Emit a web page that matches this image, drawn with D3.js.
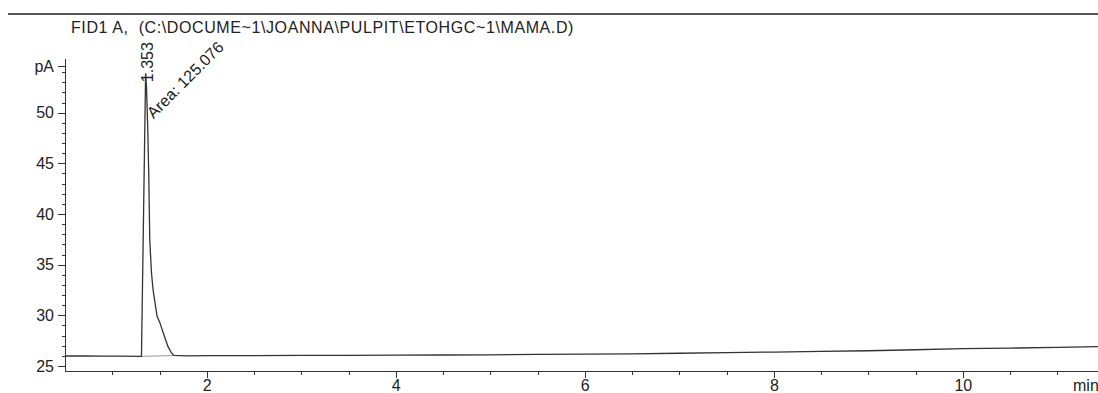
<!DOCTYPE html>
<html>
<head>
<meta charset="utf-8">
<script src="https://cdn.jsdelivr.net/npm/d3@7"></script>
<style>
  body { margin: 0; background: #fff; }
  svg { display: block; font-family: "Liberation Sans", Arial, sans-serif; }
  .axis path, .axis line { stroke: #333; shape-rendering: crispEdges; }
  .axis text { font-size: 16px; fill: #222; font-family: "Liberation Sans", Arial, sans-serif; }
  .signal { fill: none; stroke: #333; stroke-width: 1.3; }
  .peak-base { fill: none; stroke: #999; stroke-width: 1; }
</style>
</head>
<body>
<div id="chart"></div>
<script>
(function (d3, window) {
    'use strict';

    // Chromatogram values (time in min, signal in pA).
    var times = [0.5, 0.7, 0.9, 1.1, 1.3, 1.309, 1.353, 1.362, 1.376, 1.386, 1.397, 1.415,
        1.432, 1.474, 1.503, 1.538, 1.59, 1.627, 1.651, 1.8, 2.0, 2.5, 3.0, 3.5, 4.0,
        4.5, 5.0, 5.5, 6.0, 6.5, 7.0, 7.5, 8.0, 8.5, 9.0, 9.5, 10.0, 10.5, 11.0, 11.43];
    var signal = [25.98, 26.0, 25.97, 25.96, 25.94, 25.95, 53.9, 52.6, 48.3, 44.0, 37.4, 34.2,
        32.5, 29.9, 29.3, 28.3, 26.9, 26.28, 26.04, 26.0, 26.01, 26.02, 26.04, 26.05, 26.07,
        26.08, 26.1, 26.14, 26.17, 26.2, 26.25, 26.32, 26.37, 26.43, 26.5, 26.6, 26.7, 26.76,
        26.83, 26.9];

    // Integration baseline under the peak.
    var baseTimes = [1.309, 1.651];
    var baseValues = [25.95, 26.02];

    var peakTime = 1.353;
    var peakArea = 125.076;

    var xTicks = [2, 4, 6, 8, 10];
    var yTicks = [25, 30, 35, 40, 45, 50];
    var title = 'FID1 A,  (C:\\DOCUME~1\\JOANNA\\PULPIT\\ETOHGC~1\\MAMA.D)';
    var yUnit = 'pA';
    var xUnit = 'min';

    // Dimensions of the chart.
    var margin = {top: 58, right: 0, bottom: 22, left: 65};
    var width = 1098 - margin.left - margin.right;
    var height = 393 - margin.top - margin.bottom;

    // Sets the ranges.
    var x = d3.scaleLinear().domain([0.5, 11.43]).range([0, width]);
    var y = d3.scaleLinear().domain([24.5, 55.4]).range([height, 0]);

    var svg = d3.select('#chart').append('svg')
        .attr('width', 1098)
        .attr('height', 393)
    ;

    // Rule across the top.
    svg.append('line')
        .attr('x1', 8).attr('x2', 1098)
        .attr('y1', 14).attr('y2', 14)
        .attr('stroke', '#555')
        .attr('stroke-width', 2)
    ;

    svg.append('text')
        .attr('x', 71)
        .attr('y', 33)
        .attr('font-size', 16)
        .attr('letter-spacing', 0.6)
        .attr('fill', '#222')
        .style('white-space', 'pre')
        .text(title)
    ;

    var vis = svg.append('g')
        .attr('transform', 'translate(' + margin.left + ',' + margin.top + ')')
    ;

    // Minor ticks.
    vis.append('g')
        .attr('class', 'axis')
        .call(d3.axisLeft(y).tickValues(d3.range(25, 55, 1)).tickSize(3).tickSizeOuter(0).tickFormat(''))
    ;
    vis.append('g')
        .attr('class', 'axis')
        .attr('transform', 'translate(0,' + height + ')')
        .call(d3.axisBottom(x).tickValues(d3.range(1, 11.5, 0.5)).tickSize(4).tickSizeOuter(0).tickFormat(''))
    ;

    // Adds the y-axis.
    vis.append('g')
        .attr('class', 'axis')
        .call(d3.axisLeft(y).tickValues(yTicks.concat([54.6])).tickSize(7).tickSizeOuter(0).tickPadding(4)
            .tickFormat(function (d) { return d === 54.6 ? yUnit : d; }))
    ;

    // Adds the x-axis.
    vis.append('g')
        .attr('class', 'axis')
        .attr('transform', 'translate(0,' + height + ')')
        .call(d3.axisBottom(x).tickValues(xTicks).tickSize(7).tickSizeOuter(0).tickPadding(2))
    ;

    vis.append('text')
        .attr('x', width - 25)
        .attr('y', height + 20)
        .attr('font-size', 16)
        .attr('fill', '#222')
        .text(xUnit)
    ;

    // define the lines
    var line = d3.line()
        .x(function(d) { return x(d[0]); })
        .y(function(d) { return y(d[1]); })
    ;

    vis.append('path')
        .datum(d3.zip(baseTimes, baseValues))
        .attr('class', 'peak-base')
        .attr('d', line)
    ;

    vis.append('path')
        .datum(d3.zip(times, signal))
        .attr('class', 'signal')
        .attr('d', line)
    ;

    // Peak labels.
    var px = x(peakTime);
    var py = y(d3.max(signal));

    vis.append('text')
        .attr('transform', 'translate(' + (px + 7) + ',' + (py + 9) + ') rotate(-90)')
        .attr('font-size', 16)
        .attr('fill', '#222')
        .text(peakTime.toFixed(3))
    ;

    vis.append('text')
        .attr('transform', 'translate(' + (px + 8) + ',' + (py + 46) + ') rotate(-45)')
        .attr('font-size', 16)
        .attr('fill', '#222')
        .text('Area: ' + peakArea.toFixed(3))
    ;

})(d3, window);
</script>
</body>
</html>
